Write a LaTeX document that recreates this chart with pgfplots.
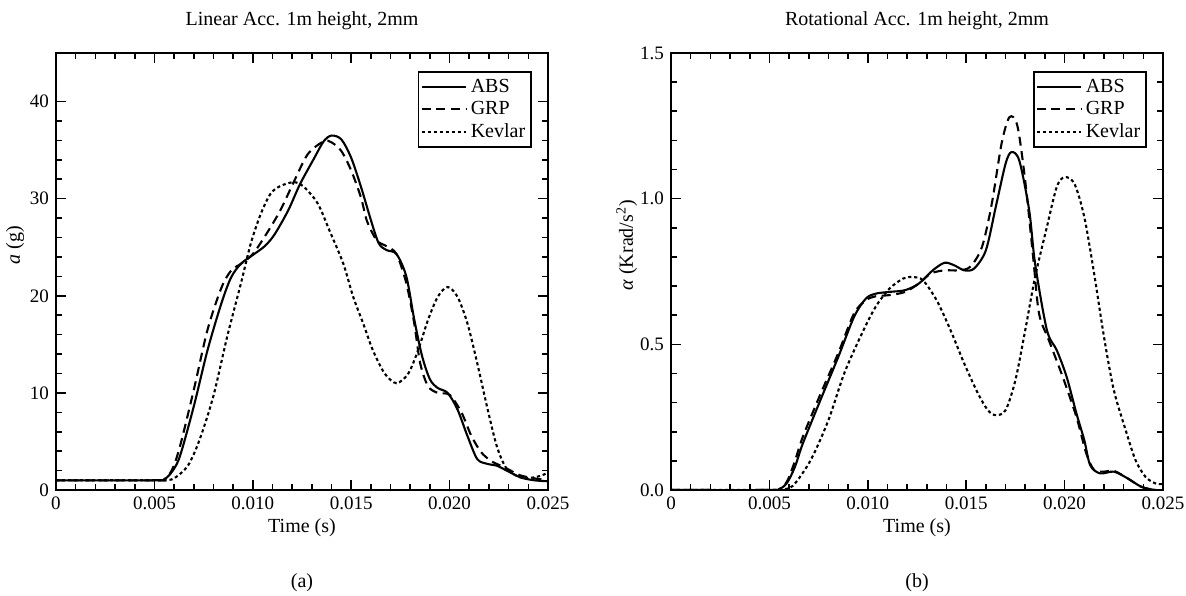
\documentclass[border=0pt]{standalone}
\usepackage{pgfplots}
\pgfplotsset{compat=1.18}
\usepackage{fontspec}
\setmainfont{Liberation Serif}
\begin{document}
\begin{tikzpicture}
\pgfplotsset{
  myax/.style={
    scale only axis, width=246pt, height=218.5pt, anchor=south west,
    xmin=0, xmax=0.025, ymin=0,
    scaled x ticks=false, scaled y ticks=false,
    xtick={0,0.005,0.01,0.015,0.02,0.025},
    xticklabels={0,0.005,0.010,0.015,0.020,0.025},
    minor x tick num=4, minor y tick num=4,
    tick align=inside, tick pos=both,
    major tick length=5pt, minor tick length=2.8pt,
    every tick/.style={black, line width=0.8pt},
    axis line style={line width=1.1pt},
    tick label style={font=\fontsize{9.5}{11}\selectfont},
    label style={font=\fontsize{10}{12}\selectfont},
    xlabel style={at={(axis description cs:0.5,0)}, anchor=center, yshift=-19pt},
    legend cell align=left,
    legend style={at={(axis description cs:1,1)}, anchor=north east, xshift=-8pt, yshift=-9pt,
      draw=black, line width=0.8pt, inner xsep=1pt, inner ysep=1.5pt, row sep=-1pt,
      font=\fontsize{10}{12}\selectfont},
    legend image code/.code={\draw[##1] (0pt,0pt) -- (22pt,0pt);},
    abs/.style={black, line width=1.05pt, smooth},
    grp/.style={black, line width=1.05pt, smooth, dash pattern=on 4.5pt off 2.8pt},
    kev/.style={black, line width=1.05pt, smooth, dash pattern=on 1.6pt off 1.4pt},
  }
}
\begin{axis}[myax, name=ax1, at={(0pt,0pt)}, ymax=45,
  ytick={0,10,20,30,40}, yticklabels={0,10,20,30,40},
  xlabel={Time (s)},
  ylabel={\textit{a} (g)},
  ylabel style={at={(axis description cs:-0.083,0.56)}, anchor=center},
]
\addplot[abs] coordinates {
(0,1.0) (0.0050,1.0) (0.0055,1.1) (0.0059,1.9) (0.0063,3.5) (0.0070,8.6) (0.0077,14.4) (0.0084,19.2) (0.0089,21.9) (0.0094,23.3) (0.0100,24.2) (0.0106,25.1) (0.0111,26.3) (0.0118,28.8) (0.0124,31.5) (0.0131,34.1) (0.0136,35.9) (0.0140,36.5) (0.0145,36.1) (0.0150,34.2) (0.0155,31.2) (0.0160,27.8) (0.0164,25.4) (0.0168,24.7) (0.0173,24.3) (0.0178,22.0) (0.0182,17.6) (0.0186,13.8) (0.0190,11.4) (0.0194,10.5) (0.0199,10.0) (0.0204,8.3) (0.0209,5.6) (0.0214,3.2) (0.0219,2.7) (0.0224,2.5) (0.0229,2.0) (0.0236,1.3) (0.0243,1.0) (0.0250,0.9)
};
\addlegendentry{ABS}
\addplot[grp] coordinates {
(0,1.0) (0.0050,1.0) (0.0055,1.1) (0.0059,2.1) (0.0063,4.5) (0.0070,10.3) (0.0077,16.5) (0.0084,20.8) (0.0089,22.6) (0.0094,23.3) (0.0100,24.3) (0.0107,26.4) (0.0114,28.8) (0.0121,31.8) (0.0128,34.6) (0.0136,35.9) (0.0140,35.8) (0.0145,34.9) (0.0150,32.9) (0.0155,30.1) (0.0158,27.7) (0.0163,25.7) (0.0168,25.1) (0.0173,24.3) (0.0178,21.3) (0.0182,17.2) (0.0185,13.1) (0.0189,10.7) (0.0194,10.0) (0.0200,9.8) (0.0206,8.0) (0.0211,5.6) (0.0216,3.9) (0.0221,3.0) (0.0226,2.5) (0.0231,2.0) (0.0236,1.5) (0.0243,1.2) (0.0250,1.0)
};
\addlegendentry{GRP}
\addplot[kev] coordinates {
(0,1.0) (0.0050,1.0) (0.0055,1.0) (0.0060,1.2) (0.0067,2.5) (0.0073,5.2) (0.0080,9.7) (0.0087,15.8) (0.0094,21.3) (0.0099,25.4) (0.0104,28.4) (0.0109,30.5) (0.0114,31.3) (0.0121,31.7) (0.0126,31.2) (0.0133,29.5) (0.0139,26.7) (0.0146,23.3) (0.0151,19.9) (0.0156,17.2) (0.0161,14.4) (0.0167,12.0) (0.0173,11.0) (0.0179,12.0) (0.0184,14.4) (0.0189,17.5) (0.0194,19.9) (0.0199,20.9) (0.0204,19.9) (0.0209,17.2) (0.0214,13.1) (0.0219,8.6) (0.0224,4.5) (0.0229,2.2) (0.0236,1.3) (0.0243,1.3) (0.0248,1.6) (0.0250,1.8)
};
\addlegendentry{Kevlar}
\end{axis}
\begin{axis}[myax, name=ax2, at={(307.5pt,0pt)}, ymax=1.5,
  ytick={0,0.5,1,1.5}, yticklabels={0.0,0.5,1.0,1.5},
  xlabel={Time (s)},
  ylabel={\textit{α} (Krad/s\textsuperscript{2})},
  ylabel style={at={(axis description cs:-0.09,0.56)}, anchor=center},
]
\addplot[abs] coordinates {
(0,0) (0.0050,0) (0.0055,0.003) (0.0059,0.025) (0.0063,0.08) (0.0067,0.16) (0.0076,0.31) (0.0085,0.457) (0.0093,0.594) (0.0099,0.657) (0.0104,0.674) (0.0111,0.680) (0.0119,0.686) (0.0126,0.709) (0.0133,0.754) (0.0139,0.780) (0.0144,0.771) (0.0149,0.754) (0.0154,0.760) (0.0160,0.823) (0.0165,0.971) (0.0170,1.12) (0.0173,1.16) (0.0177,1.13) (0.0182,0.96) (0.0185,0.777) (0.0191,0.549) (0.0196,0.48) (0.0201,0.389) (0.0206,0.263) (0.0210,0.171) (0.0213,0.085) (0.0218,0.057) (0.0225,0.063) (0.0232,0.040) (0.0239,0.011) (0.0246,0.0) (0.0250,0.0)
};
\addlegendentry{ABS}
\addplot[grp] coordinates {
(0,0) (0.0050,0) (0.0055,0.003) (0.0059,0.03) (0.0063,0.1) (0.0067,0.183) (0.0076,0.33) (0.0085,0.47) (0.0093,0.606) (0.0099,0.651) (0.0104,0.665) (0.0111,0.669) (0.0119,0.680) (0.0126,0.709) (0.0132,0.743) (0.0139,0.754) (0.0146,0.754) (0.0152,0.766) (0.0158,0.834) (0.0163,0.983) (0.0168,1.19) (0.0172,1.28) (0.0176,1.25) (0.0180,1.06) (0.0184,0.80) (0.0187,0.606) (0.0192,0.514) (0.0199,0.389) (0.0206,0.251) (0.0211,0.126) (0.0215,0.069) (0.0220,0.063) (0.0225,0.066) (0.0232,0.040) (0.0239,0.011) (0.0246,0.0) (0.0250,0.0)
};
\addlegendentry{GRP}
\addplot[kev] coordinates {
(0,0) (0.0050,0) (0.0056,0.002) (0.0062,0.015) (0.0071,0.103) (0.0080,0.24) (0.0088,0.40) (0.0097,0.537) (0.0104,0.629) (0.0111,0.691) (0.0118,0.726) (0.0123,0.731) (0.0128,0.720) (0.0135,0.651) (0.0142,0.549) (0.0149,0.434) (0.0156,0.331) (0.0161,0.274) (0.0165,0.257) (0.0170,0.274) (0.0175,0.377) (0.0180,0.549) (0.0185,0.731) (0.0191,0.903) (0.0196,1.04) (0.0200,1.074) (0.0205,1.051) (0.0210,0.937) (0.0215,0.743) (0.0220,0.526) (0.0225,0.343) (0.0231,0.206) (0.0236,0.103) (0.0241,0.046) (0.0246,0.023) (0.0250,0.020)
};
\addlegendentry{Kevlar}
\end{axis}
\begin{scope}[every node/.style={font=\fontsize{10}{12}\selectfont, anchor=center}]
\node at ([yshift=16pt]ax1.north) {Linear Acc. 1m height, 2mm};
\node at ([yshift=16pt]ax2.north) {Rotational Acc. 1m height, 2mm};
\node at ([yshift=-46.5pt]ax1.south) {(a)};
\node at ([yshift=-46.5pt]ax2.south) {(b)};
\end{scope}
\pgfresetboundingbox
\useasboundingbox (-28pt,-52.5pt) rectangle (565pt,245pt);
\end{tikzpicture}
\end{document}
